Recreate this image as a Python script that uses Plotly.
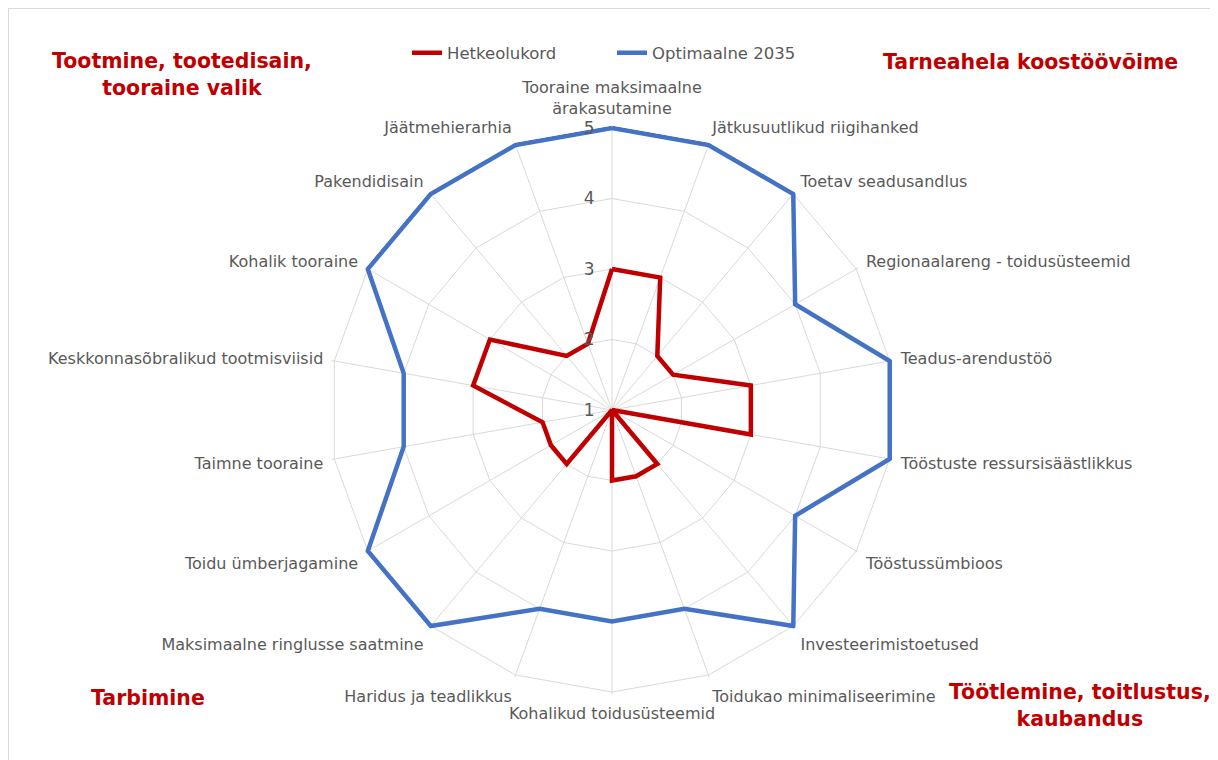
import plotly.graph_objects as go

categories = [
    "Tooraine maksimaalne<br>ärakasutamine",
    "Jätkusuutlikud riigihanked",
    "Toetav seadusandlus",
    "Regionaalareng - toidusüsteemid",
    "Teadus-arendustöö",
    "Tööstuste ressursisäästlikkus",
    "Tööstussümbioos",
    "Investeerimistoetused",
    "Toidukao minimaliseerimine",
    "Kohalikud toidusüsteemid",
    "Haridus ja teadlikkus",
    "Maksimaalne ringlusse saatmine",
    "Toidu ümberjagamine",
    "Taimne tooraine",
    "Keskkonnasõbralikud tootmisviisid",
    "Kohalik tooraine",
    "Pakendidisain",
    "Jäätmehierarhia",
]
hetkeolukord = [3, 3, 2, 2, 3, 3, 1, 2, 2, 2, 1, 2, 2, 2, 3, 3, 2, 2]
optimaalne_2035 = [5, 5, 5, 4, 5, 5, 4, 5, 4, 4, 4, 5, 5, 4, 4, 5, 5, 5]
radial_ticks = [1, 2, 3, 4, 5]

RED = "#C00000"
BLUE = "#4472C4"
GRAY = "#595959"
GRID = "#D9D9D9"
FONT = "DejaVu Sans"

fig = go.Figure()
fig.add_trace(go.Scatterpolar(
    r=hetkeolukord + hetkeolukord[:1], theta=categories + categories[:1],
    mode="lines", name="Hetkeolukord", cliponaxis=False,
    line=dict(color=RED, width=4.5),
))
fig.add_trace(go.Scatterpolar(
    r=optimaalne_2035 + optimaalne_2035[:1], theta=categories + categories[:1],
    mode="lines", name="Optimaalne 2035", cliponaxis=False,
    line=dict(color=BLUE, width=4.5),
))

OFF = 8  # page body margin
W, H = 1218 - OFF, 760 - OFF
RMAX = 5.035  # tiny headroom so the outer line is not clipped
cx, cy = 612 - OFF, 410 - OFF
R = 282 * (RMAX - 1) / 4
fig.update_layout(
    width=W, height=H,
    margin=dict(l=0, r=0, t=0, b=0),
    paper_bgcolor="white", plot_bgcolor="white",
    font=dict(family=FONT, color=GRAY, size=16),
    polar=dict(
        domain=dict(x=[(cx - R) / W, (cx + R) / W], y=[(H - cy - R) / H, (H - cy + R) / H]),
        bgcolor="white",
        gridshape="linear",
        angularaxis=dict(
            direction="clockwise", rotation=90,
            showgrid=True, gridcolor=GRID, gridwidth=1,
            showline=False,
            ticks="outside", ticklen=5, tickcolor="rgba(0,0,0,0)",
            tickfont=dict(size=16, color=GRAY, family=FONT),
        ),
        radialaxis=dict(
            range=[1, RMAX], tickvals=radial_ticks, showline=False,
            ticks="outside", ticklen=11, tickcolor="rgba(0,0,0,0)",
            side="counterclockwise",
            gridcolor=GRID, gridwidth=1, angle=90, tickangle=90,
            tickfont=dict(size=17, color=GRAY, family=FONT),
        ),
    ),
    legend=dict(
        orientation="h", x=(612 - OFF) / W, xanchor="center", y=1 - (53 - OFF) / H, yanchor="middle",
        font=dict(size=16.5, color=GRAY, family=FONT), bgcolor="rgba(0,0,0,0)",
        itemwidth=30, entrywidth=160,
    ),
    showlegend=True,
)

ann_font = dict(family=FONT, size=20.5, color=RED)
annotations = [
    ("<b>Tootmine, tootedisain,<br>tooraine valik</b>", 182, 75),
    ("<b>Tarneahela koostöövõime</b>", 1030, 62),
    ("<b>Tarbimine</b>", 148, 698),
    ("<b>Töötlemine, toitlustus,<br>kaubandus</b>", 1080, 705),
]
for text, x, y in annotations:
    fig.add_annotation(text=text, x=(x - OFF) / W, y=1 - (y - OFF) / H, xref="paper", yref="paper",
                       showarrow=False, font=ann_font, align="center",
                       xanchor="center", yanchor="middle")

fig.add_shape(type="line", xref="paper", yref="paper",
              x0=0.5 / W, x1=0.5 / W, y0=0, y1=1, line=dict(color=GRID, width=1))
fig.add_shape(type="line", xref="paper", yref="paper",
              x0=0, x1=1, y0=1 - 0.5 / H, y1=1 - 0.5 / H, line=dict(color=GRID, width=1))

fig.write_html("out.html")
